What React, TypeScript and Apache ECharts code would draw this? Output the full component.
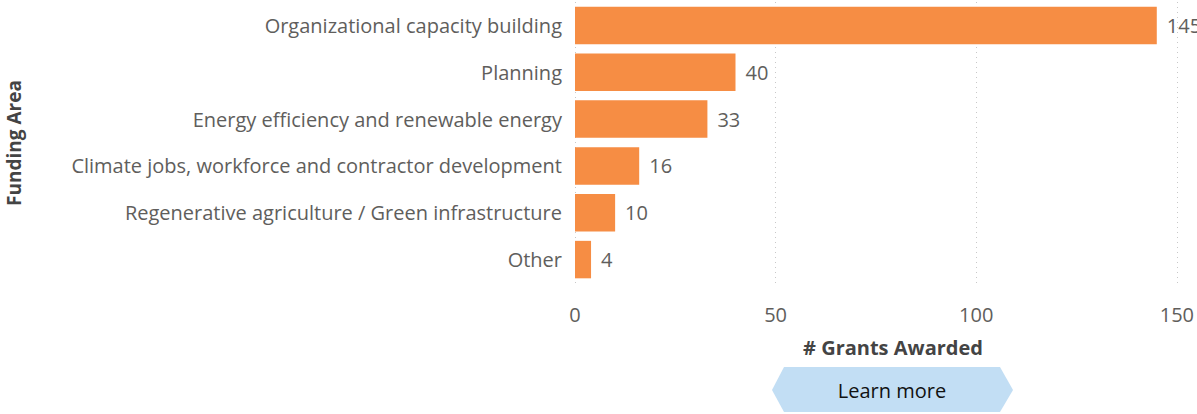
import React, { useEffect, useRef } from "react";
import * as echarts from "echarts";

const categories = [
  "Organizational capacity building",
  "Planning",
  "Energy efficiency and renewable energy",
  "Climate jobs, workforce and contractor development",
  "Regenerative agriculture / Green infrastructure",
  "Other",
];
const grants = [145, 40, 33, 16, 10, 4];
const xTicks = [0, 50, 100, 150];

const FONT = "'Open Sans', 'Noto Sans', sans-serif";
const LABEL = "#605E5C";

export default function App() {
  const ref = useRef<HTMLDivElement>(null);
  useEffect(() => {
    document.body.style.margin = "0";
    const chart = echarts.init(ref.current!, null, { renderer: "svg" });
    chart.setOption({
      animation: false,
      grid: { left: 575, right: 20, top: 2, height: 281 },
      xAxis: {
        type: "value",
        min: xTicks[0],
        max: xTicks[xTicks.length - 1],
        interval: 50,
        axisLine: { show: false },
        axisTick: { show: false },
        splitLine: { show: true, lineStyle: { type: [1, 4], color: "#c8c8c8", width: 1 } },
        axisLabel: { color: LABEL, fontSize: 20, fontFamily: FONT, margin: 21 },
      },
      yAxis: {
        type: "category",
        data: categories,
        inverse: true,
        axisLine: { show: false },
        axisTick: { show: false },
        axisLabel: { color: LABEL, fontSize: 20, fontFamily: FONT, margin: 13 },
      },
      series: [
        {
          type: "bar",
          data: grants,
          barCategoryGap: "20%",
          itemStyle: { color: "#F68D44" },
          label: {
            show: true,
            position: "right",
            distance: 10,
            color: LABEL,
            fontSize: 20,
            fontFamily: FONT,
          },
        },
      ],
      graphic: [
        {
          type: "text",
          x: 893,
          y: 347,
          style: {
            text: "# Grants Awarded",
            fill: "#444",
            font: `bold 20px ${FONT}`,
            textAlign: "center",
            textVerticalAlign: "middle",
          },
        },
        {
          type: "text",
          x: 14,
          y: 143,
          rotation: Math.PI / 2,
          style: {
            text: "Funding Area",
            fill: "#444",
            font: `bold 19px ${FONT}`,
            textAlign: "center",
            textVerticalAlign: "middle",
          },
        },
        {
          type: "polygon",
          shape: {
            points: [
              [772, 390],
              [784, 367],
              [1000, 367],
              [1013, 390],
              [1000, 412],
              [784, 412],
            ],
          },
          style: { fill: "#C2DEF4" },
        },
        {
          type: "text",
          x: 892,
          y: 390,
          style: {
            text: "Learn more",
            fill: "#111",
            font: `20px ${FONT}`,
            textAlign: "center",
            textVerticalAlign: "middle",
          },
        },
      ],
    });
    return () => chart.dispose();
  }, []);
  return <div ref={ref} style={{ width: 1197, height: 414 }} />;
}
